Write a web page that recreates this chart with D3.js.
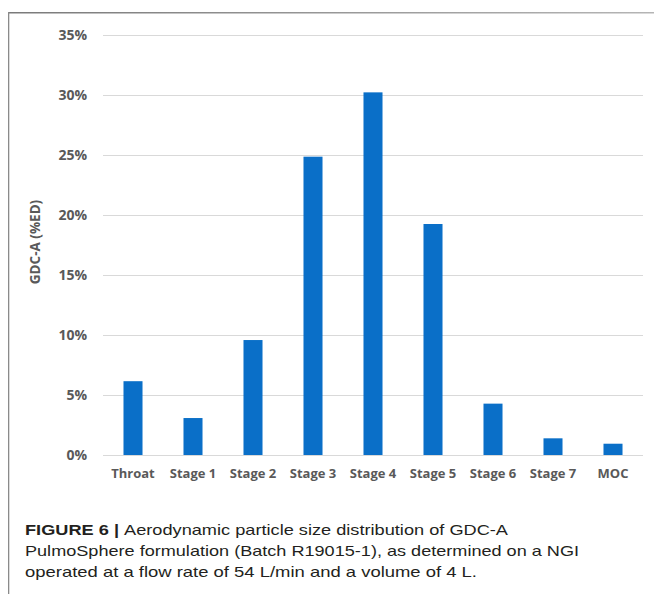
<!DOCTYPE html>
<html>
<head>
<meta charset="utf-8">
<script src="https://cdn.jsdelivr.net/npm/d3@7/dist/d3.min.js"></script>
<style>
  html, body { margin: 0; padding: 0; background: #fff; }
  svg { display: block; }
</style>
</head>
<body>
<svg id="chart" width="654" height="594"></svg>
<script>
const categories = ["Throat", "Stage 1", "Stage 2", "Stage 3", "Stage 4", "Stage 5", "Stage 6", "Stage 7", "MOC"];
const values = [0.0615, 0.0308, 0.0958, 0.2486, 0.3022, 0.1925, 0.0428, 0.0139, 0.0094];
const yTicks = [0, 0.05, 0.10, 0.15, 0.20, 0.25, 0.30, 0.35];
const yTitle = "GDC-A (%ED)";
const captionBold = "FIGURE 6 | ";
const captionLines = [
  "Aerodynamic particle size distribution of GDC-A",
  "PulmoSphere formulation (Batch R19015-1), as determined on a NGI",
  "operated at a flow rate of 54 L/min and a volume of 4 L."
];

const svg = d3.select("#chart");
const W = 654, H = 594;

// frame
const defs = svg.append("defs");
const grad = defs.append("linearGradient").attr("id", "topg").attr("x1", "0").attr("x2", "1").attr("y1", "0").attr("y2", "0");
grad.append("stop").attr("offset", "0").attr("stop-color", "#7a7a7a");
grad.append("stop").attr("offset", "1").attr("stop-color", "#b5b5b5");
svg.append("rect").attr("x", 8).attr("y", 12).attr("width", W - 8).attr("height", 1.5).attr("fill", "url(#topg)");
svg.append("rect").attr("x", 8).attr("y", 12).attr("width", 1.3).attr("height", H - 12).attr("fill", "#8a8a8a");

const x = d3.scaleBand().domain(categories).range([103, 643]).paddingInner(0.683).paddingOuter(0.3415);
const y = d3.scaleLinear().domain([0, 0.35]).range([455, 35]);

const font = "'Open Sans', 'Noto Sans', sans-serif";

// gridlines
const yAxis = d3.axisLeft(y).tickValues(yTicks).tickFormat(d3.format(".0%")).tickSize(-(643 - 103)).tickPadding(16);
const gy = svg.append("g").attr("transform", "translate(103,0)").call(yAxis);
gy.select(".domain").remove();
gy.selectAll(".tick line").attr("stroke", "#d9d9d9").attr("stroke-width", 1.2);
gy.selectAll(".tick text")
  .attr("fill", "#595959")
  .style("font-family", font)
  .style("font-weight", 700)
  .style("font-size", "14px");

// bars
svg.append("g").selectAll("rect").data(categories).join("rect")
  .attr("x", d => x(d))
  .attr("width", x.bandwidth())
  .attr("y", (d, i) => y(values[i]))
  .attr("height", (d, i) => y(0) - y(values[i]))
  .attr("fill", "#0a6fc8");

// x axis labels
const xAxis = d3.axisBottom(x).tickSize(0).tickPadding(14);
const gx = svg.append("g").attr("transform", "translate(0,455)").call(xAxis);
gx.select(".domain").remove();
gx.selectAll(".tick text")
  .attr("fill", "#595959")
  .style("font-family", font)
  .style("font-weight", 700)
  .style("font-size", "13px");

// y title
svg.append("text")
  .attr("transform", "translate(40,242) rotate(-90)")
  .attr("text-anchor", "middle")
  .attr("fill", "#595959")
  .style("font-family", font)
  .style("font-weight", 700)
  .style("font-size", "13.5px")
  .text(yTitle);

// caption
const capFont = "'Liberation Sans', Arial, sans-serif";
const widths = [483, 554, 452];
const baselines = [535, 556, 577];
captionLines.forEach((line, i) => {
  const t = svg.append("text")
    .attr("x", 25)
    .attr("y", baselines[i])
    .attr("fill", "#231f20")
    .style("font-family", capFont)
    .style("font-size", "15px")
    .attr("textLength", widths[i])
    .attr("lengthAdjust", "spacingAndGlyphs");
  if (i === 0) {
    t.append("tspan").style("font-weight", "bold").text(captionBold);
  }
  t.append("tspan").text(line);
});
</script>
</body>
</html>
